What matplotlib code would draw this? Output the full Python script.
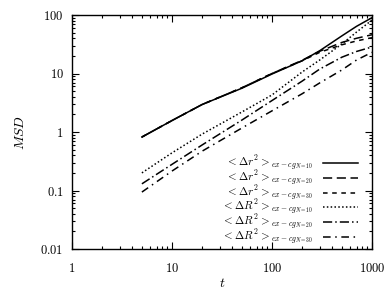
import matplotlib
matplotlib.use("Agg")
import matplotlib.pyplot as plt
from matplotlib.ticker import FixedLocator, FuncFormatter, LogLocator, NullFormatter

plt.rcParams['mathtext.fontset'] = 'cm'
plt.rcParams['font.family'] = ['cmr10', 'DejaVu Serif']
plt.rcParams['axes.unicode_minus'] = False

t = [5, 10, 20, 50, 100, 200, 300, 500, 700, 1000]
r2_n10 = [0.82, 1.57, 2.95, 5.6, 9.8, 16.5, 24.5, 44, 64, 90]
r2_n20 = [0.82, 1.57, 2.95, 5.7, 10.0, 16.8, 24, 34, 40, 46]
r2_n30 = [0.82, 1.57, 2.95, 5.7, 10.0, 16.5, 23, 31, 36, 41]
R2_n10 = [0.2, 0.44, 0.92, 2.2, 4.3, 10.6, 17, 32, 51, 82]
R2_n20 = [0.13, 0.28, 0.6, 1.6, 3.45, 7.4, 11.9, 19, 23.8, 28.4]
R2_n30 = [0.094, 0.215, 0.47, 1.17, 2.3, 4.5, 6.9, 11.5, 17, 23]

labels = [r'$<\Delta r^2>_{ex-cg_{N=10}}$',
          r'$<\Delta r^2>_{ex-cg_{N=20}}$',
          r'$<\Delta r^2>_{ex-cg_{N=30}}$',
          r'$<\Delta R^2>_{ex-cg_{N=10}}$',
          r'$<\Delta R^2>_{ex-cg_{N=20}}$',
          r'$<\Delta R^2>_{ex-cg_{N=30}}$']
styles = ['-', (0, (6, 3)), (0, (3, 3)), (0, (1, 1.5)), (0, (6, 2, 1, 2)), (0, (5, 3, 1, 3))]
series = [r2_n10, r2_n20, r2_n30, R2_n10, R2_n20, R2_n30]

fig = plt.figure(figsize=(3.92, 2.92), dpi=100)
ax = fig.add_axes([72/392, 1-249/292, 300/392, 234/292])
for s, ls, lab in zip(series, styles, labels):
    ax.plot(t, s, color='black', linestyle=ls, linewidth=1.1, label=lab)

ax.set_xscale('log')
ax.set_yscale('log')
ax.set_xlim(1, 1000)
ax.set_ylim(0.01, 100)

xt = [1, 10, 100, 1000]
yt = [0.01, 0.1, 1, 10, 100]
ax.xaxis.set_major_locator(FixedLocator(xt))
ax.yaxis.set_major_locator(FixedLocator(yt))
ax.xaxis.set_minor_locator(LogLocator(base=10, subs=range(2, 10)))
ax.yaxis.set_minor_locator(LogLocator(base=10, subs=range(2, 10)))
ax.xaxis.set_minor_formatter(NullFormatter())
ax.yaxis.set_minor_formatter(NullFormatter())
fmt = FuncFormatter(lambda v, p: r'$\mathrm{%s}$' % ('%g' % v))
ax.xaxis.set_major_formatter(fmt)
ax.yaxis.set_major_formatter(fmt)

ax.tick_params(which='both', direction='in', top=True, right=True, labelsize=9, width=0.8)
ax.tick_params(which='major', length=5, pad=6)
ax.tick_params(axis='x', which='major', pad=9)
ax.tick_params(which='minor', length=2.5)
for sp in ax.spines.values():
    sp.set_linewidth(1.0)

ax.set_xlabel(r'$t$', fontsize=10, labelpad=2)
ax.set_ylabel(r'$MSD$', fontsize=10, labelpad=10)

leg = ax.legend(loc='lower right', frameon=False, markerfirst=False, fontsize=8,
                handlelength=3.2, labelspacing=-0.4, borderaxespad=0.2, borderpad=0.1,
                handletextpad=0.9, bbox_to_anchor=(0.965, -0.005))
for txt in leg.get_texts():
    txt.set_ha('right')

fig.savefig('out.png', dpi=100)
